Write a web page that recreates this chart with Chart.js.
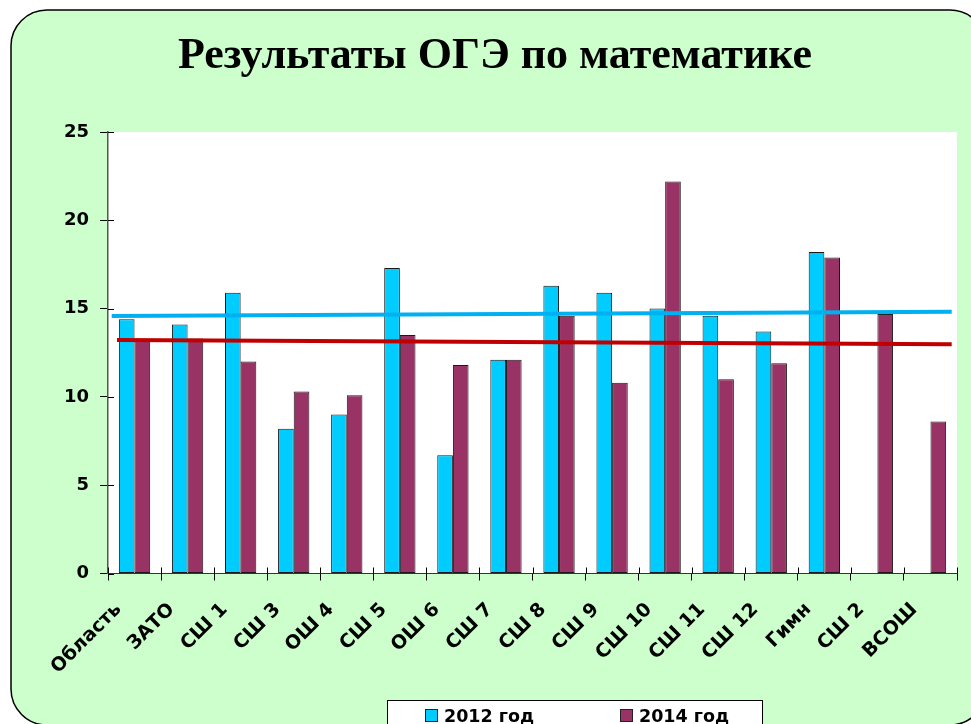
<!DOCTYPE html>
<html>
<head>
<meta charset="utf-8">
<script src="https://cdn.jsdelivr.net/npm/chart.js@4/dist/chart.umd.min.js"></script>
<style>
html,body{margin:0;padding:0;background:#fff;}
#wrap{width:971px;height:724px;position:relative;}
#wrap canvas{position:absolute;left:0;top:0;}
</style>
</head>
<body>
<div id="wrap"><canvas id="c" width="971" height="724"></canvas><canvas id="t" width="971" height="724"></canvas></div>
<script>
const categories = ["Область","ЗАТО","СШ 1","СШ 3","ОШ 4","СШ 5","ОШ 6","СШ 7","СШ 8","СШ 9","СШ 10","СШ 11","СШ 12","Гимн","СШ 2","ВСОШ"];
const values2012 = [14.4, 14.1, 15.9, 8.2, 9.0, 17.3, 6.7, 12.1, 16.3, 15.9, 15.0, 14.6, 13.7, 18.2, null, null];
const values2014 = [13.2, 13.3, 12.0, 10.3, 10.1, 13.5, 11.8, 12.1, 14.6, 10.8, 22.2, 11.0, 11.9, 17.9, 14.7, 8.6];
const trend2012 = [{x: 0.07, y: 14.58}, {x: 15.9, y: 14.82}];
const trend2014 = [{x: 0.17, y: 13.22}, {x: 15.9, y: 12.98}];
const yTicks = [0, 5, 10, 15, 20, 25];
const seriesLabels = ["2012 год", "2014 год"];
const titleText = "Результаты ОГЭ по математике";

const SANS = '"DejaVu Sans", "Liberation Sans", Arial, sans-serif';

const bgPlugin = {
  id: 'bg',
  beforeDraw(chart) {
    const ctx = chart.ctx;
    ctx.save();
    ctx.fillStyle = '#ffffff';
    ctx.fillRect(0, 0, chart.width, chart.height);
    const x = 11, y = 10, w = 975, h = 715, r = 36;
    ctx.beginPath();
    ctx.moveTo(x + r, y);
    ctx.lineTo(x + w - r, y);
    ctx.arcTo(x + w, y, x + w, y + r, r);
    ctx.lineTo(x + w, y + h - r);
    ctx.arcTo(x + w, y + h, x + w - r, y + h, r);
    ctx.lineTo(x + r, y + h);
    ctx.arcTo(x, y + h, x, y + h - r, r);
    ctx.lineTo(x, y + r);
    ctx.arcTo(x, y, x + r, y, r);
    ctx.closePath();
    ctx.fillStyle = '#CCFFCC';
    ctx.fill();
    ctx.lineWidth = 1.5;
    ctx.strokeStyle = '#000';
    ctx.stroke();
    const a = chart.chartArea;
    ctx.fillStyle = '#ffffff';
    ctx.fillRect(a.left, a.top, a.right - a.left, a.bottom - a.top);
    ctx.fillStyle = '#000';
    ctx.font = 'bold 44px "Liberation Serif", "Times New Roman", serif';
    ctx.textAlign = 'center';
    ctx.textBaseline = 'alphabetic';
    ctx.fillText(titleText, 495, 68);
    ctx.restore();
  },
  afterDraw(chart) {
    const ctx = chart.ctx;
    const ys = chart.scales.y, xs = chart.scales.x;
    ctx.save();
    ctx.strokeStyle = '#000';
    ctx.lineWidth = 1;
    yTicks.forEach(v => {
      const py = Math.round(ys.getPixelForValue(v)) + 0.5;
      ctx.beginPath(); ctx.moveTo(ys.right, py); ctx.lineTo(ys.right + 6, py); ctx.stroke();
    });
    const step = xs.getPixelForValue(1) - xs.getPixelForValue(0);
    for (let i = 0; i <= categories.length; i++) {
      const px = Math.round(xs.getPixelForValue(i) - step / 2) + 0.5;
      ctx.beginPath(); ctx.moveTo(px, xs.top); ctx.lineTo(px, xs.top - 6); ctx.stroke();
    }
    const lx = 387, ly = 700, lw = 375, lh = 40;
    ctx.fillStyle = '#fff';
    ctx.fillRect(lx, ly, lw, lh);
    ctx.strokeStyle = '#000';
    ctx.strokeRect(lx + 0.5, ly + 0.5, lw, lh);
    const itemX = [425, 620];
    ctx.font = 'bold 17.5px ' + SANS;
    ctx.textBaseline = 'alphabetic';
    ctx.textAlign = 'left';
    chart.data.datasets.slice(0, 2).forEach((ds, i) => {
      ctx.fillStyle = ds.backgroundColor;
      ctx.fillRect(itemX[i], 709, 12, 12);
      ctx.strokeStyle = '#222';
      ctx.strokeRect(itemX[i] + 0.5, 709.5, 12, 12);
      ctx.fillStyle = '#000';
      ctx.fillText(ds.label, itemX[i] + 19, 721.5);
    });
    ctx.restore();
  }
};

// Bar chart
new Chart(document.getElementById('c'), {
  type: 'bar',
  data: {
    labels: categories,
    datasets: [
      { label: seriesLabels[0], data: values2012, backgroundColor: '#00CCFF', borderColor: '#1a1a1a', borderWidth: 1, borderSkipped: false, categoryPercentage: 0.59, barPercentage: 1.0 },
      { label: seriesLabels[1], data: values2014, backgroundColor: '#993366', borderColor: '#1a1a1a', borderWidth: 1, borderSkipped: false, categoryPercentage: 0.59, barPercentage: 1.0 }
    ]
  },
  options: {
    responsive: false,
    animation: false,
    layout: { padding: { left: 0, right: 14, top: 132, bottom: 0 } },
    plugins: {
      legend: { display: false },
      tooltip: { enabled: false },
      title: { display: false }
    },
    scales: {
      x: {
        type: 'category',
        offset: true,
        grid: { display: true, drawOnChartArea: false, drawTicks: true, tickLength: 7, color: '#000', offset: true },
        border: { display: true, color: '#333', width: 1 },
        ticks: { color: '#000', autoSkip: false, maxRotation: 45, minRotation: 45, padding: 18, labelOffset: -16,
                 font: { family: SANS, size: 19, weight: 'bold' } },
        afterFit(s) { s.height = 150.5; }
      },
      y: {
        min: 0, max: 25,
        afterBuildTicks(s) { s.ticks = yTicks.map(v => ({ value: v })); },
        grid: { display: true, drawOnChartArea: false, drawTicks: true, tickLength: 8, color: '#000' },
        border: { display: true, color: '#555', width: 1.5 },
        ticks: { color: '#000', padding: 11, font: { family: SANS, size: 18, weight: 'bold' } },
        afterFit(s) { s.width = 108; }
      }
    }
  },
  plugins: [bgPlugin]
});

// Trend lines overlay (same plot area, linear x spanning the 16 categories)
new Chart(document.getElementById('t'), {
  type: 'line',
  data: {
    datasets: [
      { label: 'Линейная (2012 год)', data: trend2012, borderColor: '#00B0F0', borderWidth: 4, pointRadius: 0, fill: false },
      { label: 'Линейная (2014 год)', data: trend2014, borderColor: '#C00000', borderWidth: 4, pointRadius: 0, fill: false }
    ]
  },
  options: {
    responsive: false,
    animation: false,
    events: [],
    layout: { padding: { left: 108, right: 14, top: 132, bottom: 150.5 } },
    plugins: { legend: { display: false }, tooltip: { enabled: false }, title: { display: false } },
    scales: {
      x: { type: 'linear', display: false, min: 0, max: 16, offset: false },
      y: { type: 'linear', display: false, min: 0, max: 25 }
    }
  }
});
</script>
</body>
</html>
